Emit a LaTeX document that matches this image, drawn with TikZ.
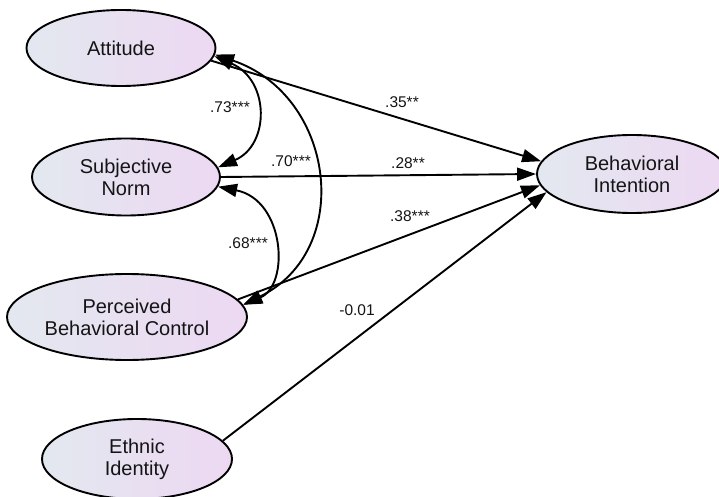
\documentclass[tikz,border=0pt]{standalone}
\usepackage{fontspec}
\setmainfont{Liberation Sans}
\usetikzlibrary{shapes.geometric,arrows.meta}
\definecolor{lft}{HTML}{E3E8F0}
\definecolor{rgt}{HTML}{EDD8F2}
\definecolor{txt}{HTML}{141414}
\tikzset{
  latent/.style={ellipse,draw=black,line width=1.9pt,left color=lft,right color=rgt,
    align=center,inner sep=0pt,text=txt,font=\fontsize{20}{22}\selectfont},
  path/.style={line width=1.9pt,-{Triangle[length=19pt,width=13pt]}},
  cov/.style={line width=1.9pt,{Triangle[length=19pt,width=13pt]}-{Triangle[length=19pt,width=13pt]}},
  lbl/.style={text=txt,font=\fontsize{15.5}{17}\selectfont,inner sep=0pt}
}
\begin{document}
\begin{tikzpicture}[x=1pt,y=-1pt]
\useasboundingbox (0,0) rectangle (719,497);
\clip (0,0) rectangle (719,497);
\node[latent,minimum width=189pt,minimum height=76pt] (att) at (121,48) {Attitude};
\node[latent,minimum width=188pt,minimum height=77pt] (sn) at (126,177) {Subjective\\Norm};
\node[latent,minimum width=240pt,minimum height=86pt] (pbc) at (127,317) {Perceived\\Behavioral Control};
\node[latent,minimum width=190pt,minimum height=80pt] (ei) at (137,459) {Ethnic\\Identity};
\node[latent,minimum width=190pt,minimum height=78pt] (bi) at (632,174) {Behavioral\\Intention};
% regression paths
\draw[path] (att.-8) -- (bi.172);
\draw[path] (sn.east) -- (bi.west);
\draw[path] (pbc.9) -- (bi.187);
\draw[path] (ei.12) -- (bi.192);
% covariances
\draw[cov] (att.-5) .. controls (270,80) and (270,145) .. (sn.6);
\draw[cov] (att.-4) .. controls (335,95) and (355,250) .. (pbc.6);
\draw[cov] (sn.-6) .. controls (285,200) and (290,285) .. (pbc.6);
% labels
\node[lbl] (l73) at (230,107) {.73***};
\node[lbl] (l70) at (291,161) {.70***};
\node[lbl] (l68) at (248,243) {.68***};
\node[lbl] (l35) at (402,102) {.35**};
\node[lbl] (l28) at (408,163) {.28**};
\node[lbl] (l38) at (410,216) {.38***};
\node[lbl] (l01) at (357,310) {-0.01};
\end{tikzpicture}
\end{document}
